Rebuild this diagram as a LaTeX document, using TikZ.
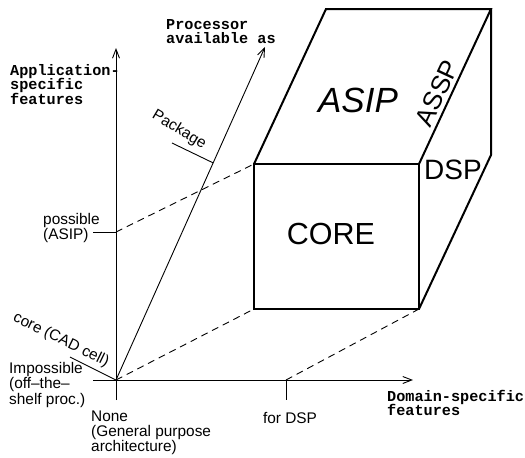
\documentclass[tikz,border=0pt]{standalone}
\usepackage{fontspec}
\setmainfont{Liberation Sans}
\newfontfamily\cour{Liberation Mono}
\usetikzlibrary{arrows.meta,calc}
\begin{document}
\begin{tikzpicture}[x=1pt,y=-1pt,
  axis/.style={line width=0.9pt,-{Straight Barb[length=9pt,width=7pt]}},
  thinline/.style={line width=0.9pt},
  dashline/.style={line width=0.9pt, dash pattern=on 7pt off 5pt},
  boxedge/.style={line width=2pt, line join=miter},
  sans/.style={font=\fontsize{15.4}{15}\selectfont, inner sep=0pt, align=left},
  mono/.style={font=\cour\bfseries\fontsize{15.2}{14.5}\selectfont, inner sep=0pt, align=left},
  big/.style={inner sep=0pt}
]
\useasboundingbox (0,0) rectangle (525,458);
% axes points
\coordinate (O) at (116,380);
\coordinate (Vtop) at (116,48);
\coordinate (Vbot) at (116,400);
\coordinate (Hl) at (93,380);
\coordinate (Hr) at (413,380);
\coordinate (Dtip) at (265,47);
\coordinate (P) at (116,232);
\coordinate (Pl) at (93,232);
\coordinate (T) at (286,380);
\coordinate (Tb) at (286,400);
\coordinate (Ct) at (70,357);
\coordinate (K) at ($(O)!0.652!(Dtip)$);
\coordinate (Ke) at (172,143);
% box corners
\coordinate (F1) at (254,164);
\coordinate (F2) at (419,164);
\coordinate (F3) at (419,309);
\coordinate (F4) at (254,309);
\coordinate (B1) at (326,9);
\coordinate (B2) at (491,9);
\coordinate (B3) at (491,155);
% axes
\draw[axis] (Vbot) -- (Vtop);
\draw[axis] (Hl) -- (Hr);
\draw[axis] (O) -- (Dtip);
% ticks
\draw[thinline] (Pl) -- (P);
\draw[thinline] (T) -- (Tb);
\draw[thinline] (Ct) -- (O);
\draw[thinline] (Ke) -- (K);
% dashed projections
\draw[dashline] (P) -- (F1);
\draw[dashline] (O) -- (F4);
\draw[dashline] (T) -- (F3);
% box
\draw[boxedge] (F1) -- (F2) -- (F3) -- (F4) -- cycle;
\draw[boxedge] (F1) -- (B1) -- (B2) -- (F2);
\draw[boxedge] (B2) -- (B3) -- (F3);
% labels
\node[mono, anchor=north west] (proc) at (166,19) {Processor\\available as};
\node[mono, anchor=north west] (app) at (10,64) {Application-\\specific\\features};
\node[mono, anchor=north west] (dom) at (387,390) {Domain-specific\\features};
\node[sans, anchor=north west, font=\fontsize{15.4}{14}\selectfont] (poss) at (43,213) {possible\\(ASIP)};
\node[sans, anchor=north west, font=\fontsize{15.4}{15.5}\selectfont] (imp) at (9,362) {Impossible\\(off–the–\\shelf proc.)};
\node[sans, anchor=north west] (none) at (91,411) {None\\(General purpose\\architecture)};
\node[sans, anchor=north] (fordsp) at (290,412) {for DSP};
\node[sans, rotate=-26] (core) at (61,340) {core (CAD cell)};
\node[sans, rotate=-31] (pkg) at (179,130) {Package};
\node[big, font=\itshape\fontsize{35}{35}\selectfont] (asip) at (358,100) {ASIP};
\node[big, font=\fontsize{26}{26}\selectfont, rotate=65] (assp) at (437,93) {ASSP};
\node[big, font=\fontsize{28}{28}\selectfont] (dsp) at (453,170) {DSP};
\node[big, font=\fontsize{30.5}{30}\selectfont] (coretxt) at (331,234) {CORE};
\end{tikzpicture}
\end{document}
